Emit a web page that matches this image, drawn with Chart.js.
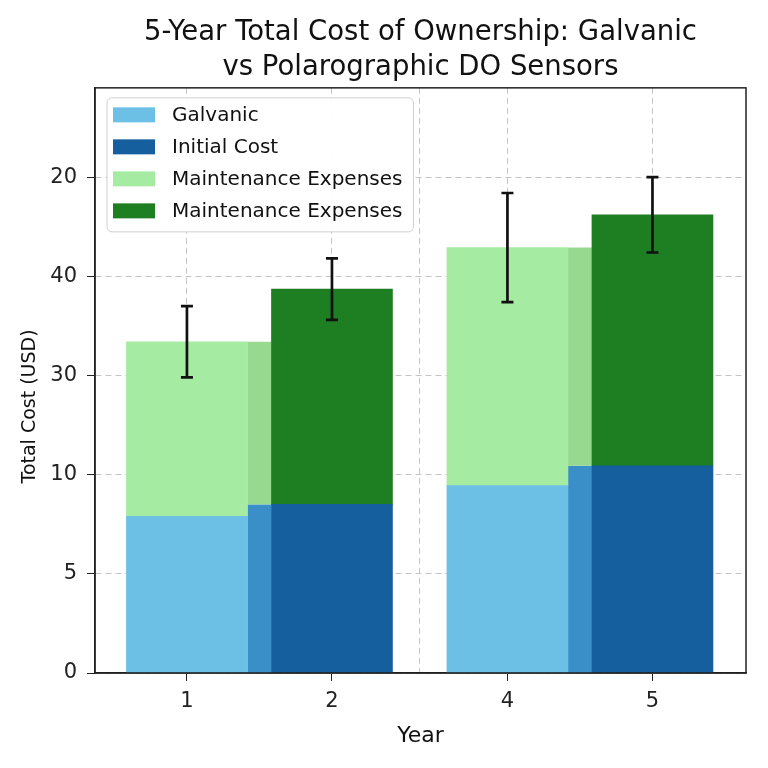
<!DOCTYPE html>
<html lang="en">
<head>
<meta charset="UTF-8">
<title>5-Year Total Cost of Ownership</title>
<script src="https://cdn.jsdelivr.net/npm/chart.js"></script>
<style>
  body { margin: 0; background: #fff; }
  #chart { display: block; }
</style>
</head>
<body>
<canvas id="chart" width="768" height="768"></canvas>
<script>
// data (y in axis units: one tick step = 10)
const years = ['1', '2', '4', '5'];
const sensors = ['Galvanic', 'Polarographic', 'Galvanic', 'Polarographic'];
const initialCost = [15.8, 17.0, 18.9, 20.9];
const maintenanceCost = [17.6, 21.7, 24.0, 25.3];
const costError = [3.6, 3.1, 5.5, 3.8];
const yTickLabels = ['0', '5', '10', '30', '40', '20'];
const legendLabels = ['Galvanic', 'Initial Cost', 'Maintenance Expenses', 'Maintenance Expenses'];
const titleLines = ['5-Year Total Cost of Ownership: Galvanic', 'vs Polarographic DO Sensors'];
const yTitle = 'Total Cost (USD)';

const FONT = '"DejaVu Sans", sans-serif';
const GROUP_GAP = 0.21;   // extra space between year 2 and year 4
const X_MIN = -0.634;
const X_MAX = 3.855;

const colors = {
  lightBlue: '#6cc0e6',
  darkBlue: '#155f9e',
  lightGreen: '#a6eba2',
  darkGreen: '#1d7e22',
  stripBlue: '#3a8fc8',
  stripGreen: '#96d98f',
  grid: '#c4c4c4',
  axis: '#222'
};

function slot(i) {
  return i + (i >= 2 ? GROUP_GAP : 0);
}

function points(values, sensor) {
  return years
    .map((_, i) => ({ x: slot(i), y: values[i], i: i }))
    .filter(p => sensors[p.i] === sensor);
}

const datasets = [
  { label: legendLabels[0], data: points(initialCost, 'Galvanic'), backgroundColor: colors.lightBlue },
  { label: legendLabels[1], data: points(initialCost, 'Polarographic'), backgroundColor: colors.darkBlue },
  { label: legendLabels[2], data: points(maintenanceCost, 'Galvanic'), backgroundColor: colors.lightGreen },
  { label: legendLabels[3], data: points(maintenanceCost, 'Polarographic'), backgroundColor: colors.darkGreen }
].map(d => Object.assign(d, { stack: 'all', barThickness: 121, borderWidth: 0 }));

function elementFor(chart, dsIndex, i) {
  const ds = chart.data.datasets[dsIndex];
  const j = ds.data.findIndex(p => p.i === i);
  return j < 0 ? null : chart.getDatasetMeta(dsIndex).data[j];
}

// shaded strip where each Galvanic / Polarographic pair meets
const stripPlugin = {
  id: 'strip',
  beforeDatasetsDraw(chart) {
    const { ctx, scales: { y } } = chart;
    ctx.save();
    for (let i = 0; i < years.length - 1; i += 2) {
      const light = elementFor(chart, 0, i);
      const dark = elementFor(chart, 1, i + 1);
      if (!light || !dark) continue;
      const left = light.x + light.width / 2;
      const right = dark.x - dark.width / 2;
      const base = y.getPixelForValue(0);
      const blueTop = y.getPixelForValue(initialCost[i + 1]);
      const greenTop = y.getPixelForValue(initialCost[i] + maintenanceCost[i]);
      ctx.fillStyle = colors.stripBlue;
      ctx.fillRect(left, blueTop, right - left, base - blueTop);
      ctx.fillStyle = colors.stripGreen;
      ctx.fillRect(left, greenTop, right - left, blueTop - greenTop);
    }
    ctx.restore();
  }
};

const errorBarPlugin = {
  id: 'errorBars',
  afterDatasetsDraw(chart) {
    const { ctx, scales: { y } } = chart;
    ctx.save();
    ctx.strokeStyle = '#111';
    ctx.lineWidth = 2.7;
    years.forEach((_, i) => {
      const dsIndex = sensors[i] === 'Galvanic' ? 2 : 3;
      const el = elementFor(chart, dsIndex, i);
      if (!el) return;
      const total = initialCost[i] + maintenanceCost[i];
      const hi = y.getPixelForValue(total + costError[i]);
      const lo = y.getPixelForValue(total - costError[i]);
      ctx.beginPath();
      ctx.moveTo(el.x, hi); ctx.lineTo(el.x, lo);
      ctx.moveTo(el.x - 6, hi); ctx.lineTo(el.x + 6, hi);
      ctx.moveTo(el.x - 6, lo); ctx.lineTo(el.x + 6, lo);
      ctx.stroke();
    });
    // frame round the plot
    const a = chart.chartArea;
    ctx.strokeStyle = colors.axis;
    ctx.lineWidth = 1.5;
    ctx.strokeRect(a.left, a.top, a.right - a.left, a.bottom - a.top);
    ctx.restore();
  }
};

const legendPlugin = {
  id: 'boxLegend',
  afterDraw(chart) {
    const { ctx, chartArea } = chart;
    const left = chartArea.left + 12;
    const top = chartArea.top + 10;
    const rowH = 32;
    ctx.save();
    ctx.font = '20px ' + FONT;
    const textW = Math.max(...chart.data.datasets.map(d => ctx.measureText(d.label).width));
    const w = 65 + textW + 11;
    const h = 17 + rowH * (chart.data.datasets.length - 1) + 21;
    ctx.beginPath();
    ctx.roundRect(left, top, w, h, 5);
    ctx.fillStyle = 'rgba(255,255,255,0.92)';
    ctx.fill();
    ctx.strokeStyle = '#d0d0d0';
    ctx.lineWidth = 1;
    ctx.stroke();
    ctx.textBaseline = 'middle';
    chart.data.datasets.forEach((d, k) => {
      const cy = top + 17 + rowH * k;
      ctx.fillStyle = d.backgroundColor;
      ctx.fillRect(left + 6, cy - 7.5, 42, 15);
      ctx.fillStyle = '#111';
      ctx.fillText(d.label, left + 65, cy + 1);
    });

    // y axis title, sitting a little below the middle of the axis
    ctx.font = '19px ' + FONT;
    ctx.textAlign = 'center';
    ctx.translate(30, (chartArea.top + chartArea.bottom) / 2 + 26);
    ctx.rotate(-Math.PI / 2);
    ctx.fillText(yTitle, 0, 0);
    ctx.restore();
  }
};

const tickFont = { family: FONT, size: 21 };

new Chart(document.getElementById('chart'), {
  type: 'bar',
  data: { datasets: datasets },
  options: {
    responsive: false,
    animation: false,
    layout: { padding: { top: 0, right: 22, bottom: 0, left: 0 } },
    plugins: {
      legend: { display: false },
      tooltip: { enabled: false },
      title: {
        display: true,
        fullSize: false,
        text: titleLines,
        color: '#111',
        font: { family: FONT, size: 27.5, weight: 'normal', lineHeight: 1.27 },
        padding: { top: 15, bottom: 3 }
      }
    },
    scales: {
      x: {
        type: 'linear',
        stacked: true,
        offset: false,
        min: X_MIN,
        max: X_MAX,
        afterBuildTicks: s => {
          const vals = years.map((_, i) => slot(i));
          vals.push((slot(1) + slot(2)) / 2);
          s.ticks = vals.sort((a, b) => a - b).map(v => ({ value: v }));
        },
        afterFit: s => { s.height = 95; },
        ticks: {
          font: tickFont,
          color: '#222',
          padding: 8,
          autoSkip: false,
          maxRotation: 0,
          callback: v => {
            const k = years.findIndex((_, i) => Math.abs(slot(i) - v) < 1e-6);
            return k < 0 ? '' : years[k];
          }
        },
        grid: {
          offset: false,
          color: colors.grid,
          lineWidth: 1,
          tickLength: 8,
          tickColor: c => (c.tick && c.tick.label === '' ? 'rgba(0,0,0,0)' : colors.axis)
        },
        border: { display: true, color: colors.axis, width: 1.5, dash: [6, 4] },
        title: {
          display: true,
          text: 'Year',
          color: '#111',
          font: { family: FONT, size: 22 },
          padding: { top: 0, bottom: 19 }
        }
      },
      y: {
        stacked: true,
        min: 0,
        max: 59,
        afterBuildTicks: s => { s.ticks = yTickLabels.map((_, k) => ({ value: k * 10 })); },
        afterFit: s => { s.width = 95; },
        ticks: {
          font: tickFont,
          color: '#222',
          padding: 10,
          callback: v => yTickLabels[Math.round(v / 10)]
        },
        grid: { color: colors.grid, lineWidth: 1, tickLength: 8, tickColor: colors.axis },
        border: { display: true, color: colors.axis, width: 1.5, dash: [6, 4] }
      }
    }
  },
  plugins: [stripPlugin, errorBarPlugin, legendPlugin]
});
</script>
</body>
</html>
